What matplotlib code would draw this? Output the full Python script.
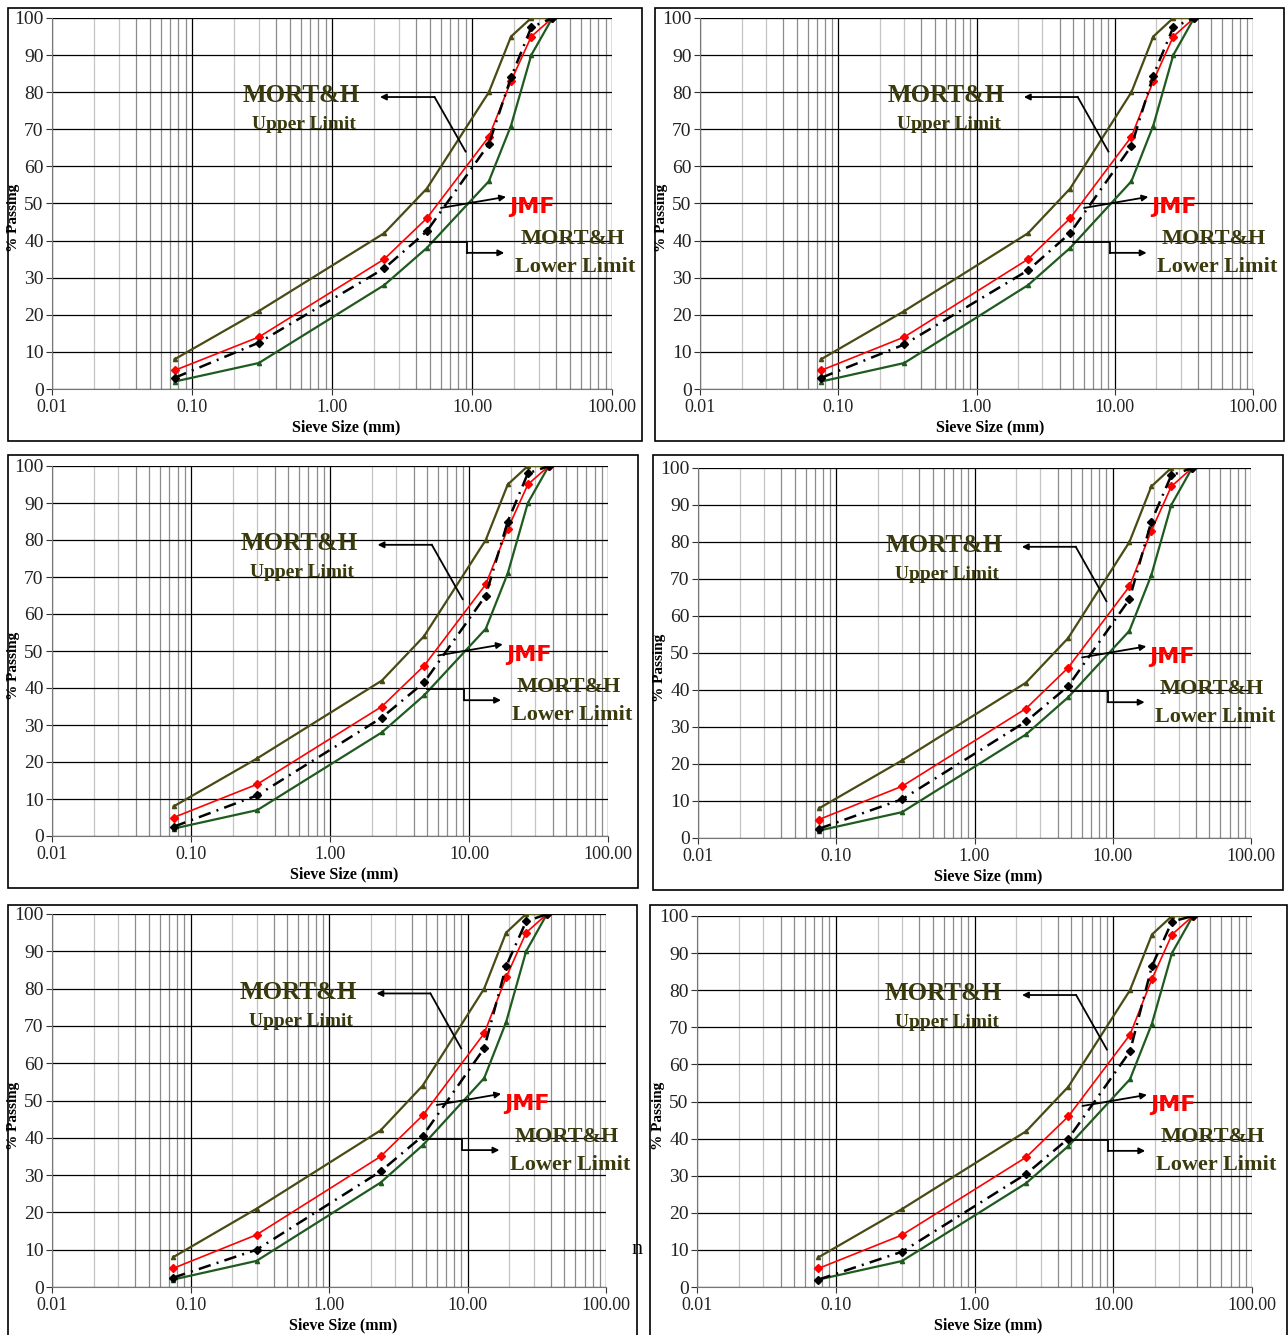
import matplotlib
matplotlib.use("Agg")
import matplotlib.pyplot as plt
from matplotlib.patches import Rectangle
import numpy as np

# sieve sizes (mm) and gradation limits
sieve = [0.075, 0.3, 2.36, 4.75, 13.2, 19.0, 26.5, 37.5]
upper = [8, 21, 42, 54, 80, 95, 100, 100]
lower = [2, 7, 28, 38, 56, 71, 90, 100]
jmf = [5, 14, 35, 46, 68, 83, 95, 100]

# obtained gradation for each of the six panels
mix1 = [3.0, 12.5, 32.5, 42.5, 66.0, 84.0, 97.5, 100]
mix2 = [3.0, 12.0, 32.0, 42.0, 65.5, 84.5, 97.5, 100]
mix3 = [2.5, 11.0, 32.0, 41.5, 65.0, 85.0, 98.0, 100]
mix4 = [2.5, 10.5, 31.5, 41.0, 64.5, 85.5, 98.0, 100]
mix5 = [2.5, 10.0, 31.0, 40.5, 64.0, 86.0, 98.0, 100]
mix6 = [2.0, 9.5, 30.5, 40.0, 63.5, 86.5, 98.5, 100]
mixes = [mix1, mix2, mix3, mix4, mix5, mix6]

xticks = [0.01, 0.1, 1, 10, 100]
xlabels = ["0.01", "0.10", "1.00", "10.00", "100.00"]
yticks = list(range(0, 101, 10))

W, H = 1288, 1335
fig = plt.figure(figsize=(W / 100, H / 100), dpi=100)

# axes boxes in pixels: left, top, right, bottom
boxes = [(52, 18, 612, 389), (700, 18, 1253, 389),
         (52, 466, 608, 836), (698, 468, 1251, 838),
         (52, 914, 606, 1287), (697, 916, 1252, 1287)]
frames = [(8, 8, 642, 441), (655, 8, 1284, 441),
          (8, 455, 638, 888), (653, 455, 1283, 890),
          (8, 905, 637, 1345), (650, 905, 1287, 1345)]

olive = "#3a3a0c"
serif = "Liberation Serif"

for (fl, ft, fr, fb) in frames:
    fig.add_artist(Rectangle((fl / W, 1 - fb / H), (fr - fl) / W, (fb - ft) / H,
                             transform=fig.transFigure, fill=False,
                             edgecolor="black", linewidth=1.2))

for i, (l, t, r, b) in enumerate(boxes):
    ax = fig.add_axes([l / W, 1 - b / H, (r - l) / W, (b - t) / H])
    ax.set_xscale("log")
    ax.set_xlim(0.01, 100)
    ax.set_ylim(0, 100)

    # grid like the excel chart
    for dec in [0.01, 0.1, 1, 10]:
        for k in range(2, 10):
            shade = "#c4c4c4" if k in (2, 3) else "#8c8c8c"
            ax.axvline(dec * k, color=shade, linewidth=0.9, zorder=0)
    for xv in xticks:
        ax.axvline(xv, color="black", linewidth=0.9, zorder=0)
    for yv in yticks:
        ax.axhline(yv, color="black", linewidth=0.9, zorder=0)

    ax.plot(sieve, upper, color="#4a4a14", linewidth=1.6, marker="^",
            markersize=3, zorder=3)
    ax.plot(sieve, lower, color="#1f5a1f", linewidth=1.6, marker="^",
            markersize=3, zorder=3)
    ax.plot(sieve, jmf, color="red", linewidth=1.2, marker="D",
            markersize=4, zorder=4)
    ax.plot(sieve, mixes[i], color="black", linewidth=1.8, marker="D",
            markersize=4, dashes=[5, 2.5, 0.8, 2.5], zorder=5)

    ax.set_xticks(xticks)
    ax.set_xticklabels(xlabels)
    ax.minorticks_off()
    ax.set_yticks(yticks)
    ax.tick_params(axis="y", labelsize=14, colors="#333333", length=4,
                   width=0.8, pad=2)
    ax.tick_params(axis="x", labelsize=13, colors="#333333", length=4,
                   width=0.8, pad=3)
    for lab in ax.get_xticklabels() + ax.get_yticklabels():
        lab.set_fontfamily(serif)
        lab.set_color("#222222")
    for s in ["top", "right"]:
        ax.spines[s].set_visible(False)
    for s in ["left", "bottom"]:
        ax.spines[s].set_color("#777777")

    ax.set_xlabel("Sieve Size (mm)", fontsize=11.5, fontweight="bold",
                  fontfamily=serif)
    ax.xaxis.set_label_coords(0.525, -0.082)
    ax.set_ylabel("% Passing", fontsize=11, fontweight="bold", fontfamily=serif)
    ax.yaxis.set_label_coords(-0.058, 0.46)

    # annotations
    ax.text(0.6, 79, "MORT&H", fontsize=18, fontweight="bold", fontfamily=serif,
            color=olive, ha="center", va="center", zorder=6)
    ax.text(0.63, 71.3, "Upper Limit", fontsize=14, fontweight="bold",
            fontfamily=serif, color=olive, ha="center", va="center", zorder=6)
    ax.plot([9.0, 5.4], [64, 78.7], color="black", linewidth=1.3, zorder=6)
    ax.annotate("", xy=(2.2, 78.7), xytext=(5.4, 78.7),
                arrowprops=dict(arrowstyle="-|>", color="black", lw=1.3,
                                mutation_scale=9, shrinkA=0, shrinkB=0), zorder=6)

    ax.text(18.5, 49, "JMF", fontsize=16, fontweight="bold",
            fontfamily="DejaVu Sans", color="red", ha="left", va="center",
            zorder=6, clip_on=False)
    ax.annotate("", xy=(17.5, 51.8), xytext=(6.0, 48.8),
                arrowprops=dict(arrowstyle="-|>", color="black", lw=1.3,
                                mutation_scale=9, shrinkA=0, shrinkB=0), zorder=6)

    ax.plot([5.0, 9.2, 9.2], [39.6, 39.6, 36.7], color="black", linewidth=1.3,
            zorder=6)
    ax.annotate("", xy=(17.0, 36.7), xytext=(9.2, 36.7),
                arrowprops=dict(arrowstyle="-|>", color="black", lw=1.3,
                                mutation_scale=9, shrinkA=0, shrinkB=0), zorder=6)
    ax.text(52, 40.3, "MORT&H", fontsize=16, fontweight="bold", fontfamily=serif,
            color=olive, ha="center", va="center", zorder=6, clip_on=False)
    ax.text(55, 32.8, "Lower Limit", fontsize=16, fontweight="bold",
            fontfamily=serif, color=olive, ha="center", va="center", zorder=6,
            clip_on=False)

fig.text(637 / W, 1 - 1250 / H, "n", fontsize=16, fontfamily=serif,
         ha="center", va="center")

fig.savefig("out.png", dpi=100)
